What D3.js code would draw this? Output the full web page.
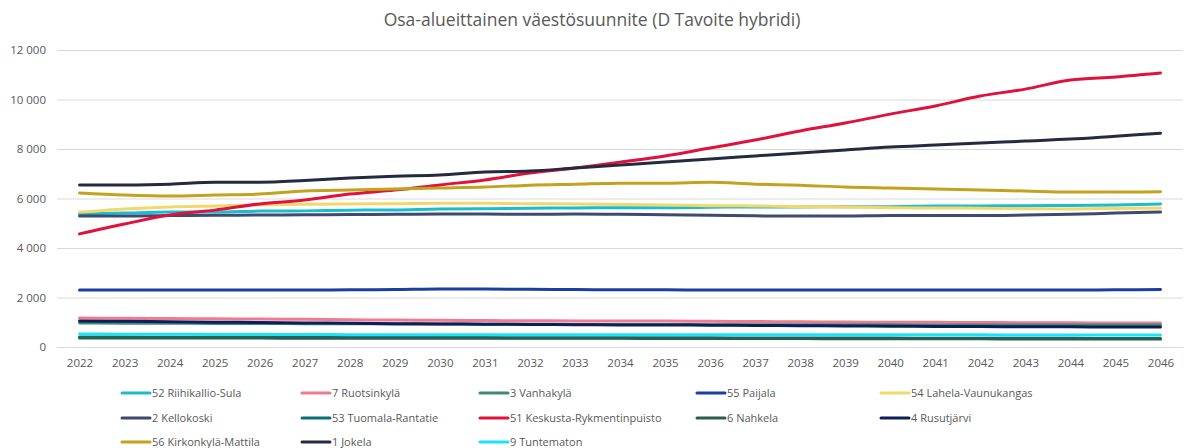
<!DOCTYPE html>
<html>
<head>
<meta charset="utf-8">
<script src="https://cdn.jsdelivr.net/npm/d3@7"></script>
<style>
  body { margin: 0; background: #fff; }
  text { font-family: "Open Sans", "Liberation Sans", sans-serif; fill: #595959; }
</style>
</head>
<body>
<script>
// chart data

var years = [2022, 2023, 2024, 2025, 2026, 2027, 2028, 2029, 2030, 2031, 2032, 2033,
  2034, 2035, 2036, 2037, 2038, 2039, 2040, 2041, 2042, 2043, 2044, 2045, 2046];

var seriesNames = ['52 Riihikallio-Sula', '7 Ruotsinkylä', '3 Vanhakylä', '55 Paijala',
  '54 Lahela-Vaunukangas', '2 Kellokoski', '53 Tuomala-Rantatie',
  '51 Keskusta-Rykmentinpuisto', '6 Nahkela', '4 Rusutjärvi',
  '56 Kirkonkylä-Mattila', '1 Jokela', '9 Tuntematon'];

var seriesColors = ['#1bbcd0', '#f27a90', '#3f8a74', '#1a3fa0', '#f2d86a', '#3e4a72',
  '#0b6e78', '#e0123c', '#2b5e4e', '#0c1e5c', '#c2a21e', '#242a40', '#1ee2f7'];

var riihikallio = [5370, 5410, 5450, 5450, 5490, 5500, 5530, 5540, 5580, 5590, 5610, 5620,
  5630, 5630, 5650, 5660, 5660, 5670, 5670, 5700, 5700, 5710, 5720, 5740, 5780];
var ruotsinkyla = [1170, 1160, 1150, 1140, 1130, 1120, 1100, 1090, 1080, 1070, 1060, 1055,
  1050, 1050, 1040, 1030, 1020, 1010, 1000, 995, 990, 980, 975, 970, 965];
var vanhakyla = [970, 960, 960, 950, 950, 940, 940, 930, 930, 920, 920, 910,
  910, 910, 900, 900, 900, 895, 895, 890, 890, 890, 890, 885, 885];
var paijala = [2300, 2300, 2300, 2300, 2300, 2300, 2310, 2320, 2340, 2340, 2330, 2320,
  2310, 2310, 2300, 2300, 2300, 2300, 2300, 2300, 2300, 2300, 2300, 2310, 2320];
var lahela = [5450, 5580, 5660, 5700, 5740, 5770, 5780, 5790, 5810, 5810, 5790, 5780,
  5760, 5740, 5710, 5700, 5670, 5660, 5630, 5620, 5610, 5590, 5580, 5600, 5620];
var kellokoski = [5290, 5290, 5310, 5320, 5330, 5340, 5350, 5360, 5370, 5370, 5360, 5370,
  5360, 5340, 5320, 5300, 5290, 5290, 5310, 5310, 5310, 5330, 5360, 5410, 5450];
var tuomala = [400, 400, 395, 395, 390, 390, 385, 385, 380, 380, 375, 375,
  375, 370, 370, 365, 365, 360, 360, 355, 355, 350, 350, 345, 340];
var keskusta = [4570, 4970, 5330, 5530, 5780, 5940, 6180, 6340, 6550, 6750, 7030, 7230,
  7470, 7720, 8040, 8360, 8730, 9050, 9410, 9740, 10140, 10420, 10790, 10910, 11070];
var nahkela = [365, 365, 360, 360, 360, 355, 355, 355, 350, 350, 350, 350,
  350, 345, 345, 340, 340, 335, 335, 330, 330, 325, 325, 320, 320];
var rusutjarvi = [1050, 1040, 1020, 1000, 990, 970, 960, 940, 930, 920, 910, 900,
  890, 890, 880, 870, 860, 850, 840, 830, 825, 820, 815, 810, 810];
var kirkonkyla = [6220, 6140, 6100, 6140, 6180, 6300, 6340, 6380, 6420, 6460, 6540, 6580,
  6620, 6620, 6660, 6580, 6540, 6460, 6420, 6380, 6340, 6300, 6260, 6260, 6270];
var jokela = [6545, 6550, 6580, 6660, 6660, 6730, 6830, 6900, 6950, 7070, 7110, 7230,
  7350, 7470, 7600, 7720, 7840, 7960, 8080, 8160, 8240, 8320, 8400, 8520, 8640];
var tuntematon = [525, 520, 515, 510, 505, 505, 500, 500, 500, 500, 500, 500,
  500, 495, 495, 495, 490, 490, 490, 490, 490, 485, 485, 485, 485];

var seriesValues = [riihikallio, ruotsinkyla, vanhakyla, paijala, lahela, kellokoski,
  tuomala, keskusta, nahkela, rusutjarvi, kirkonkyla, jokela, tuntematon];

var yTicks = [0, 2000, 4000, 6000, 8000, 10000, 12000];

var width = 1184;
var height = 448;
var plotLeft = 57, plotRight = 1183, plotTop = 50, plotBottom = 347;

var svg = d3.select('body').append('svg')
  .attr('width', width)
  .attr('height', height)

svg.append('text')
  .attr('x', 592)
  .attr('y', 26)
  .attr('text-anchor', 'middle')
  .style('font-size', '17.5px')
  .text('Osa-alueittainen väestösuunnite (D Tavoite hybridi)')

var x = d3.scalePoint()
  .domain(years)
  .range([plotLeft, plotRight])
  .padding(0.5)

var y = d3.scaleLinear()
  .domain([0, 12000])
  .range([plotBottom, plotTop])

var fmt = function(d) { return d3.format(',')(d).replace(',', ' ') }

// gridlines + y labels
var yAxis = svg.append('g')
  .attr('transform', 'translate(' + plotLeft + ',0)')
  .call(d3.axisLeft(y).tickValues(yTicks).tickSize(-(plotRight - plotLeft)).tickFormat(fmt))
yAxis.select('.domain').remove()
yAxis.selectAll('line').attr('stroke', '#d9d9d9').attr('stroke-width', 1)
yAxis.selectAll('text')
  .attr('x', -11)
  .style('font-size', '11.5px')
  .style('fill', '#595959')

var xAxis = svg.append('g')
  .attr('transform', 'translate(0,' + plotBottom + ')')
  .call(d3.axisBottom(x).tickSize(0))
xAxis.select('.domain').attr('stroke', '#d9d9d9')
xAxis.selectAll('text')
  .attr('dy', '1.45em')
  .style('font-size', '11.5px')
  .style('fill', '#595959')

var line = d3.line()
  .x(function(d, i) { return x(years[i]) })
  .y(function(d) { return y(d) })
  .curve(d3.curveMonotoneX)

svg.append('g').selectAll('path')
  .data(seriesValues)
  .enter().append('path')
  .attr('d', function(d) { return line(d) })
  .attr('fill', 'none')
  .attr('stroke', function(d, i) { return seriesColors[i] })
  .attr('stroke-width', 3)
  .attr('stroke-linecap', 'round')

// legend, 5 columns x 3 rows
var legendCols = [122, 302, 480, 697, 881];
var legendRows = [393, 418, 442];

var legend = svg.append('g').selectAll('g')
  .data(seriesNames)
  .enter().append('g')
  .attr('transform', function(d, i) {
    return 'translate(' + legendCols[i % 5] + ',' + legendRows[Math.floor(i / 5)] + ')'
  })

legend.append('line')
  .attr('x1', 0).attr('x2', 28)
  .attr('stroke', function(d, i) { return seriesColors[i] })
  .attr('stroke-width', 3)
  .attr('stroke-linecap', 'round')

legend.append('text')
  .attr('x', 30)
  .attr('dy', '0.35em')
  .style('font-size', '11px')
  .text(function(d) { return d })
</script>
</body>
</html>
